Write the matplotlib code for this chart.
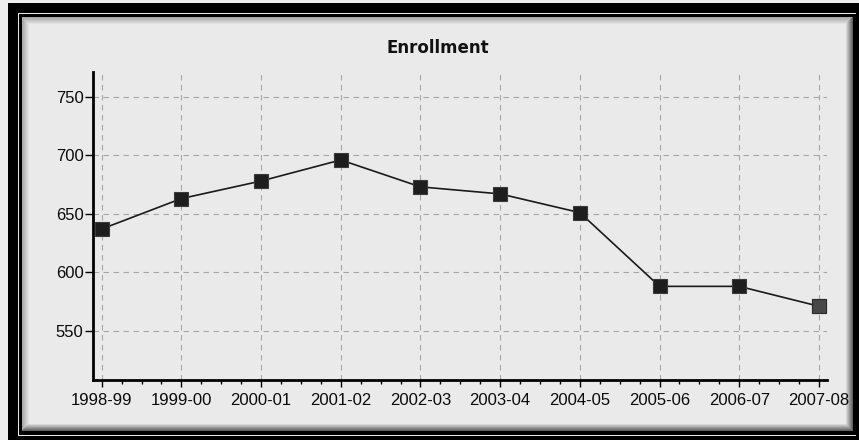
import numpy as np
import matplotlib
matplotlib.use("Agg")
import matplotlib.pyplot as plt
from matplotlib.ticker import MultipleLocator

# Enrollment by school year
years = ["1998-99", "1999-00", "2000-01", "2001-02", "2002-03",
         "2003-04", "2004-05", "2005-06", "2006-07", "2007-08"]
enrollment = [637, 663, 678, 696, 673, 667, 651, 588, 588, 571]
y_ticks = [550, 600, 650, 700, 750]

W, H = 859, 440
fig = plt.figure(figsize=(W / 100, H / 100), dpi=100)
fig.patch.set_facecolor("#eeeeee")

# Framed panel drawn as a pixel backdrop: black border, thin white rule, sunken bevel
bg = np.full((H, W), 0.93)
bg[3:H, 8:W] = 0.0
bg[13, 18:W - 3] = 0.92
bg[13:436, 18] = 0.92
bg[435, 18:W - 3] = 0.92
t, b, l, r = 17, 431, 22, 853
bg[t:b, l:r] = 0.915
bev = 8
for i in range(bev):
    f = (i + 1) / bev
    v_tl = 0.62 + (0.915 - 0.62) * f
    v_br = 0.30 + (0.915 - 0.30) * f
    bg[t + i, l + i:r - i] = np.minimum(bg[t + i, l + i:r - i], v_tl)
    bg[t + i:b - i, l + i] = np.minimum(bg[t + i:b - i, l + i], v_tl)
    bg[b - 1 - i, l + i:r - i] = np.minimum(bg[b - 1 - i, l + i:r - i], v_br)
    bg[t + i:b - i, r - 1 - i] = np.minimum(bg[t + i:b - i, r - 1 - i], v_br)
fig.figimage(bg, xo=0, yo=0, cmap="gray", vmin=0, vmax=1, origin="upper", zorder=0)

ax = fig.add_axes([93.3 / W, 1 - 380 / H, (826.7 - 93.3) / W, (380 - 71.7) / H])
ax.set_zorder(2)
ax.patch.set_visible(False)

x = np.arange(len(years))
ax.plot(x, enrollment, color="#1a1a1a", lw=1.2, zorder=3)
ax.plot(x, enrollment, ls="none", marker="s", ms=9.5, mfc="#1e1e1e",
        mec="#3a3a3a", mew=0.8, zorder=4)
ax.plot(x[-1:], enrollment[-1:], ls="none", marker="s", ms=9.5, mfc="#474747",
        mec="#2a2a2a", mew=0.8, zorder=5)

ax.set_xlim(-0.105, len(years) - 1 + 0.097)
ax.set_ylim(508, 771.4)
ax.set_xticks(x)
ax.set_xticklabels(years)
ax.xaxis.set_minor_locator(MultipleLocator(0.25))
ax.set_yticks(y_ticks)

for side in ("top", "right"):
    ax.spines[side].set_visible(False)
for side in ("left", "bottom"):
    ax.spines[side].set_linewidth(2.0)
    ax.spines[side].set_color("black")

ax.grid(True, which="major", color="#a6a6a6", lw=0.8, ls=(0, (5, 4)))
ax.set_axisbelow(True)

tick_family = ["Liberation Sans", "DejaVu Sans"]
for lab in ax.get_xticklabels() + ax.get_yticklabels():
    lab.set_fontfamily(tick_family)
    lab.set_fontsize(12)
    lab.set_color("#0a0a0a")
ax.tick_params(axis="x", which="major", length=5, width=1.0, direction="out", pad=4)
ax.tick_params(axis="x", which="minor", length=3, width=1.0, direction="out")
ax.tick_params(axis="y", which="major", length=6, width=1.0, direction="out", pad=1)

fig.text(437.5 / W, 1 - 48 / H, "Enrollment", ha="center", va="center",
         fontsize=12, fontweight="bold", family="DejaVu Sans", color="#111111")

fig.savefig("out.png", dpi=100)
